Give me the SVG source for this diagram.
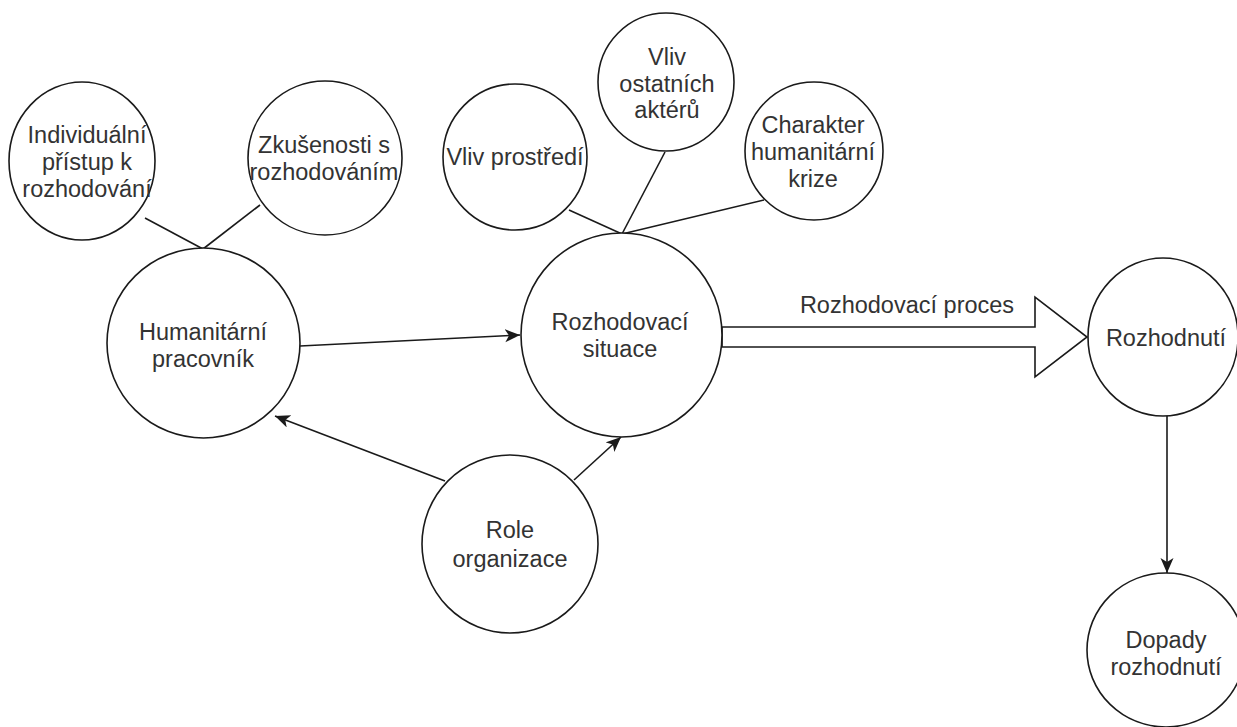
<svg xmlns="http://www.w3.org/2000/svg" width="1237" height="727" viewBox="0 0 1237 727">
  <style>
    .node ellipse { fill: #ffffff; stroke: #1a1a1a; stroke-width: 1.6; }
    .node text { font-family: "Liberation Sans", Arial, sans-serif; font-size: 23.5px; fill: #333333; text-anchor: middle; }
    .link { stroke: #1a1a1a; stroke-width: 1.6; fill: none; }
    .label { font-family: "Liberation Sans", Arial, sans-serif; font-size: 23.5px; fill: #333333; text-anchor: middle; }
  </style>
  <defs>
    <marker id="arrow" markerUnits="userSpaceOnUse" markerWidth="18" markerHeight="14" refX="15" refY="6.5" orient="auto">
      <path d="M0,0 L15,6.5 L0,13 L4,6.5 z" fill="#1a1a1a"/>
    </marker>
  </defs>
  <rect width="1237" height="727" fill="#ffffff"/>

  <!-- connectors -->
  <g id="connectors">
    <line class="link" x1="145" y1="218" x2="203" y2="249"/>
    <line class="link" x1="260" y1="205" x2="203" y2="249"/>
    <line class="link" x1="569" y1="210" x2="622" y2="234"/>
    <line class="link" x1="665" y1="152" x2="622" y2="234"/>
    <line class="link" x1="764" y1="200" x2="622" y2="234"/>
    <line class="link" x1="300" y1="346" x2="520" y2="335" marker-end="url(#arrow)"/>
    <line class="link" x1="445" y1="481" x2="275" y2="416" marker-end="url(#arrow)"/>
    <line class="link" x1="574" y1="480" x2="621" y2="437" marker-end="url(#arrow)"/>
    <line class="link" x1="1167" y1="415" x2="1167" y2="573" marker-end="url(#arrow)"/>
    <polygon class="link" points="722,327 1035,327 1035,297 1087,337 1035,377 1035,347 722,347" fill="#ffffff"/>
    <text class="label" x="907" y="313">Rozhodovací proces</text>
  </g>

  <g id="individualni" class="node">
    <ellipse cx="82" cy="161" rx="73" ry="79"/>
    <text x="87" y="143">Individuální</text>
    <text x="87" y="170">přístup k</text>
    <text x="87" y="197">rozhodování</text>
  </g>
  <g id="zkusenosti" class="node">
    <ellipse cx="325" cy="158" rx="77" ry="77"/>
    <text x="324" y="153">Zkušenosti s</text>
    <text x="324" y="180">rozhodováním</text>
  </g>
  <g id="humanitarni-pracovnik" class="node">
    <ellipse cx="203.5" cy="343" rx="96.5" ry="95"/>
    <text x="203" y="340">Humanitární</text>
    <text x="203" y="367">pracovník</text>
  </g>
  <g id="vliv-prostredi" class="node">
    <ellipse cx="515" cy="157" rx="72" ry="73"/>
    <text x="515" y="165">Vliv prostředí</text>
  </g>
  <g id="vliv-akteru" class="node">
    <ellipse cx="666" cy="82" rx="68" ry="69"/>
    <text x="667" y="65">Vliv</text>
    <text x="667" y="92">ostatních</text>
    <text x="667" y="118">aktérů</text>
  </g>
  <g id="charakter-krize" class="node">
    <ellipse cx="814" cy="151" rx="69" ry="69"/>
    <text x="813" y="133">Charakter</text>
    <text x="813" y="160">humanitární</text>
    <text x="813" y="187">krize</text>
  </g>
  <g id="rozhodovaci-situace" class="node">
    <ellipse cx="621.5" cy="335" rx="100.5" ry="102"/>
    <text x="620" y="330">Rozhodovací</text>
    <text x="620" y="357">situace</text>
  </g>
  <g id="role-organizace" class="node">
    <ellipse cx="510" cy="544" rx="88" ry="89"/>
    <text x="510" y="538">Role</text>
    <text x="510" y="567">organizace</text>
  </g>
  <g id="rozhodnuti" class="node">
    <ellipse cx="1163" cy="337" rx="75" ry="79"/>
    <text x="1166" y="346">Rozhodnutí</text>
  </g>
  <g id="dopady" class="node">
    <ellipse cx="1166" cy="650" rx="79" ry="77"/>
    <text x="1166" y="648">Dopady</text>
    <text x="1166" y="675">rozhodnutí</text>
  </g>
</svg>
